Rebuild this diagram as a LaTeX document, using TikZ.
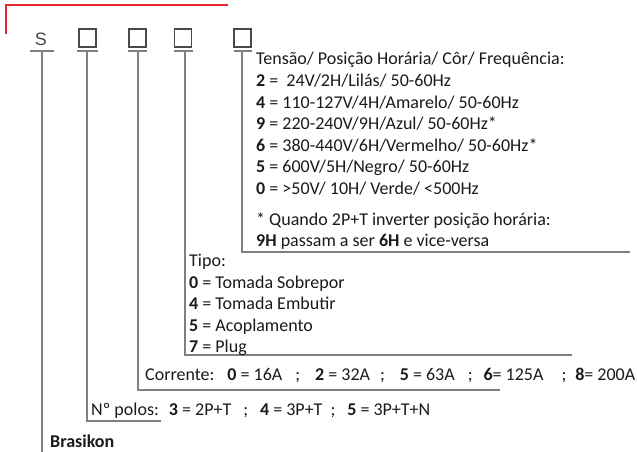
\documentclass[tikz,border=0pt]{standalone}
\usepackage{fontspec}
\setmainfont{Carlito}
\newfontfamily\arialf{Liberation Sans}
\definecolor{linec}{HTML}{808080}
\definecolor{boxc}{HTML}{4A4A4A}
\definecolor{redc}{HTML}{E8262B}
\definecolor{txtc}{HTML}{1A1A1A}
\newcommand{\gap}[1]{\hspace{#1pt}}
\begin{document}
\begin{tikzpicture}[x=1pt,y=-1pt,
  conn/.style={draw=linec,line width=1.6pt},
  barl/.style={draw=linec,line width=1.6pt},
  redl/.style={draw=redc,line width=1.3pt},
  sq/.style={draw=boxc,line width=1.2pt,minimum width=17pt,minimum height=18pt,inner sep=0},
  txt/.style={anchor=base west,inner sep=0,text=txtc,font=\fontsize{18}{21.7}\selectfont}]
\useasboundingbox (0,0) rectangle (637,452);
% red frame corner
\coordinate (r1) at (6,34);
\coordinate (r2) at (6,5);
\coordinate (r3) at (228,5);
\draw[redl] (r1) -- (r2) -- (r3);
% code letters
\node[inner sep=0,text=boxc,font=\arialf\fontsize{18}{20}\selectfont] (s) at (41,39) {S};
\node[sq] (b1) at (87.5,38) {};
\node[sq] (b2) at (137.5,38) {};
\node[sq] (b3) at (183,38) {};
\node[sq] (b4) at (242.5,38) {};
% bars
\coordinate (sl) at (30,51);   \coordinate (sr) at (54,51);
\coordinate (b1l) at (77,51);  \coordinate (b1r) at (98,51);
\coordinate (b2l) at (128,51); \coordinate (b2r) at (147,51);
\coordinate (b3l) at (174,51); \coordinate (b3r) at (193,51);
\coordinate (b4l) at (234,51); \coordinate (b4r) at (252,51);
\draw[barl] (sl) -- (sr);
\draw[barl] (b1l) -- (b1r);
\draw[barl] (b2l) -- (b2r);
\draw[barl] (b3l) -- (b3r);
\draw[barl] (b4l) -- (b4r);
% connector top points
\coordinate (sv) at (42,51);
\coordinate (b1v) at (87,51);
\coordinate (b2v) at (138,51);
\coordinate (b3v) at (185,51);
\coordinate (b4v) at (242,51);
% connector ends
\coordinate (send) at (42,452);
\coordinate (b1end) at (161,420.7);
\coordinate (b2end) at (500,390);
\coordinate (b3end) at (572,355);
\coordinate (b4end) at (630,252);
\draw[conn] (sv) -- (send);
\draw[conn] (b1v) |- (b1end);
\draw[conn] (b2v) |- (b2end);
\draw[conn] (b3v) |- (b3end);
\draw[conn] (b4v) |- (b4end);
% Tensao block
\node[txt] (t1) at (256,65) {Tensão/ Posição Horária/ Côr/ Frequência:};
\node[txt] (t2) at (256,86.5) {\textbf{2} =\ \ 24V/2H/Lilás/ 50-60Hz};
\node[txt] (t3) at (256,108) {\textbf{4} = 110-127V/4H/Amarelo/ 50-60Hz};
\node[txt] (t4) at (256,129.5) {\textbf{9} = 220-240V/9H/Azul/ 50-60Hz*};
\node[txt] (t5) at (256,151) {\textbf{6} = 380-440V/6H/Vermelho/ 50-60Hz*};
\node[txt] (t6) at (256,172.5) {\textbf{5} = 600V/5H/Negro/ 50-60Hz};
\node[txt] (t7) at (256,194) {\textbf{0} = >50V/ 10H/ Verde/ <500Hz};
\node[txt] (t8) at (256,225) {* Quando 2P+T inverter posição horária:};
\node[txt] (t9) at (256,246.5) {\textbf{9H} passam a ser \textbf{6H} e vice-versa};
% Tipo block
\node[txt] (p1) at (189,266.5) {Tipo:};
\node[txt] (p2) at (189,288) {\textbf{0} = Tomada Sobrepor};
\node[txt] (p3) at (189,309.5) {\textbf{4} = Tomada Embutir};
\node[txt] (p4) at (189,331) {\textbf{5} = Acoplamento};
\node[txt] (p5) at (189,352.5) {\textbf{7} = Plug};
% Corrente
\node[txt] (c1) at (145,380) {Corrente:\gap{13}\textbf{0} = 16A\gap{13};\gap{15}\textbf{2} = 32A\gap{10};\gap{15}\textbf{5} = 63A\gap{13};\gap{11}\textbf{6}= 125A\gap{18};\gap{9}\textbf{8}= 200A};
% Polos
\node[txt] (n1) at (91,415) {Nº polos:\gap{10}\textbf{3} = 2P+T\gap{12};\gap{12}\textbf{4} = 3P+T\gap{8};\gap{12}\textbf{5} = 3P+T+N};
% Brasikon
\node[txt] (br) at (50,447) {\textbf{Brasikon}};
\end{tikzpicture}
\end{document}
